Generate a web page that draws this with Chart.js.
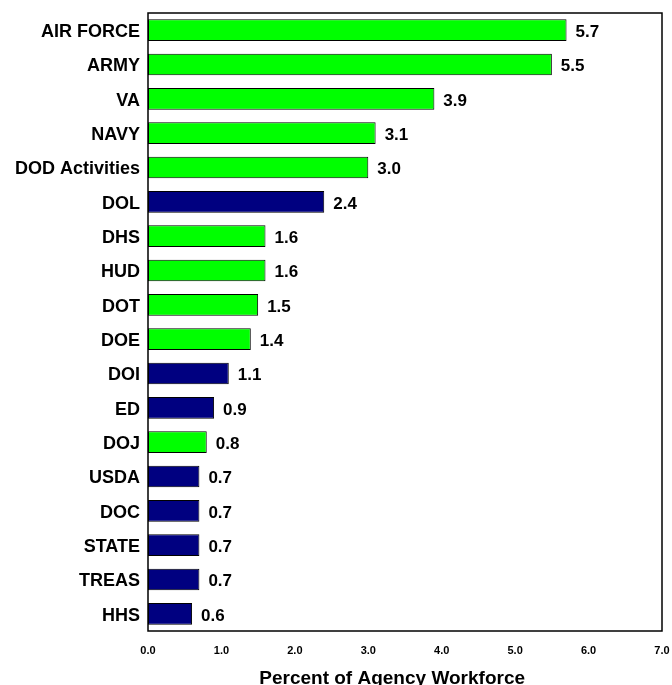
<!DOCTYPE html>
<html>
<head>
<meta charset="utf-8">
<script src="https://cdn.jsdelivr.net/npm/chart.js@4/dist/chart.umd.min.js"></script>
<style>
  html, body { margin: 0; padding: 0; background: #fff; overflow: hidden; }
  #wrap { width: 672px; height: 685px; position: relative; }
  #chart { display: block; }
</style>
</head>
<body>
<div id="wrap"><canvas id="chart"></canvas></div>
<script>
// agencies, top to bottom
const agencies = ['AIR FORCE', 'ARMY', 'VA', 'NAVY', 'DOD Activities', 'DOL', 'DHS', 'HUD',
    'DOT', 'DOE', 'DOI', 'ED', 'DOJ', 'USDA', 'DOC', 'STATE', 'TREAS', 'HHS'];
// green bars (null where the agency is drawn in navy)
const greenValues = [5.7, 5.5, 3.9, 3.1, 3.0, null, 1.6, 1.6, 1.5, 1.4, null, null, 0.8, null, null, null, null, null];
// navy bars
const navyValues = [null, null, null, null, null, 2.4, null, null, null, null, 1.1, 0.9, null, 0.7, 0.7, 0.7, 0.7, 0.6];
const xTicks = [0, 1, 2, 3, 4, 5, 6, 7];
const xTitle = 'Percent of Agency Workforce';

const FONT = 'Arial, "Liberation Sans", Helvetica, sans-serif';

// value labels at the end of each bar + box round the plot
const barLabels = {
    id: 'barLabels',
    afterDatasetsDraw(chart) {
        const ctx = chart.ctx;
        ctx.save();
        ctx.font = 'bold 17px ' + FONT;
        ctx.fillStyle = '#000';
        ctx.textAlign = 'left';
        ctx.textBaseline = 'middle';
        chart.data.datasets.forEach((ds, di) => {
            const meta = chart.getDatasetMeta(di);
            meta.data.forEach((bar, i) => {
                if (ds.data[i] == null) return;
                ctx.fillText(ds.data[i].toFixed(1), bar.x + 9, bar.y + 2);
            });
        });
        ctx.restore();
    },
    afterDraw(chart) {
        const ctx = chart.ctx;
        const a = chart.chartArea;
        ctx.save();
        ctx.strokeStyle = '#000';
        ctx.lineWidth = 1.5;
        ctx.strokeRect(a.left, a.top, a.right - a.left, a.bottom - a.top);
        // axis title, a little left of the plot centre as in the original
        ctx.font = 'bold 19px ' + FONT;
        ctx.fillStyle = '#000';
        ctx.textAlign = 'center';
        ctx.textBaseline = 'alphabetic';
        ctx.fillText(xTitle, a.left + (a.right - a.left) * 0.475, chart.height - 1);
        ctx.restore();
    }
};

const ctx = document.getElementById('chart').getContext('2d');
const chart = new Chart(ctx, {
    type: 'bar',
    data: {
        labels: agencies,
        datasets: [
            {
                label: 'green',
                data: greenValues,
                backgroundColor: '#00ff00',
                borderColor: '#000',
                borderWidth: 1,
                borderSkipped: false,
                grouped: false,
                barPercentage: 0.63,
                categoryPercentage: 1
            },
            {
                label: 'navy',
                data: navyValues,
                backgroundColor: '#000080',
                borderColor: '#000',
                borderWidth: 1,
                borderSkipped: false,
                grouped: false,
                barPercentage: 0.63,
                categoryPercentage: 1
            }
        ]
    },
    options: {
        indexAxis: 'y',
        responsive: true,
        maintainAspectRatio: false,
        animation: false,
        layout: { autoPadding: false, padding: { top: 13, right: 10, left: 0, bottom: 0 } },
        scales: {
            x: {
                min: 0,
                max: 7,
                afterBuildTicks: (scale) => { scale.ticks = xTicks.map(v => ({ value: v })); },
                afterFit: (scale) => {
                    scale.height = 54;
                    scale.paddingLeft = 0;
                    scale.paddingRight = 0;
                },
                grid: { display: false, drawTicks: false },
                border: { display: false },
                ticks: {
                    padding: 13,
                    color: '#000',
                    font: { family: FONT, size: 11, weight: 'bold' },
                    callback: (v) => Number(v).toFixed(1)
                }
            },
            y: {
                afterFit: (scale) => {
                    scale.width = 148;
                    scale.paddingTop = 0;
                    scale.paddingBottom = 0;
                },
                grid: { display: false, drawTicks: false },
                border: { display: false },
                ticks: {
                    padding: 8,
                    labelOffset: 2,
                    color: '#000',
                    font: { family: FONT, size: 18, weight: 'bold' }
                }
            }
        },
        plugins: {
            legend: { display: false },
            tooltip: { enabled: false }
        }
    },
    plugins: [barLabels]
});
</script>
</body>
</html>
